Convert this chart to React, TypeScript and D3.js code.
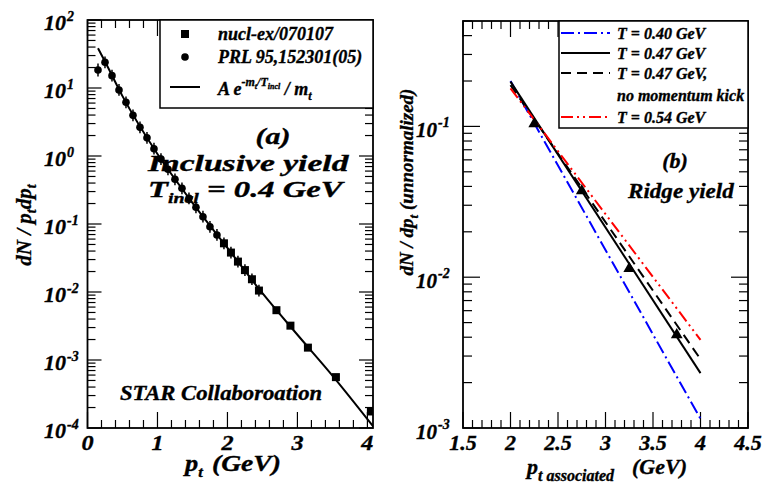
import React from 'react';
import * as d3 from 'd3';

const W = 763;
const H = 482;
const FONT = '"Liberation Serif", "Times New Roman", serif';

// panel (a): inclusive spectrum
const prlPt = [0.15, 0.25, 0.35, 0.45, 0.55, 0.65, 0.75, 0.85, 0.95, 1.05, 1.15, 1.25, 1.35, 1.45, 1.55, 1.65, 1.75, 1.85];
const prlYield = [18.4, 23.9, 15.2, 9.35, 6.17, 3.96, 2.64, 1.85, 1.28, 0.9, 0.637, 0.454, 0.335, 0.239, 0.176, 0.128, 0.091, 0.069];
const prlErr = [0.25, 0.22, 0.22, 0.22, 0.22, 0.22, 0.22, 0.22, 0.22, 0.22, 0.22, 0.22, 0.22, 0.22, 0.22, 0.22, 0.22, 0.22];
const nuclPt = [1.95, 2.05, 2.15, 2.25, 2.35, 2.45, 2.7, 2.9, 3.15, 3.55, 4.05];
const nuclYield = [0.052, 0.038, 0.028, 0.021, 0.0154, 0.0105, 0.0054, 0.0032, 0.00152, 0.00056, 0.000175];
const nuclErr = [0.22, 0.22, 0.22, 0.22, 0.22, 0.22, 0, 0, 0, 0, 0];
const fitPt = [0.15, 0.25, 0.5, 1.0, 1.5, 2.0, 2.5, 3.0, 3.5, 4.1];
const fitYield = [38.5, 24.5, 7.6, 1.07, 0.205, 0.0445, 0.0096, 0.00235, 0.00059, 0.0001];
const leftXTicks = [0, 1, 2, 3, 4];
const leftYExp = [-4, -3, -2, -1, 0, 1, 2];

// panel (b): ridge yield
const ridgePt = [2.25, 2.75, 3.25, 3.75];
const ridgeYield = [0.104, 0.0374, 0.0114, 0.00415];
const curvePt = [2, 4];
const series = [
  { label: 'T = 0.40 GeV', values: [0.2, 0.00115], color: '#0000ff', dash: '13 4 2 4' },
  { label: 'T = 0.47 GeV', values: [0.198, 0.00231], color: '#000', dash: '' },
  { label: 'T = 0.47 GeV,', values: [0.188, 0.00286], color: '#000', dash: '10 6' },
  { label: 'T = 0.54 GeV', values: [0.179, 0.00384], color: '#ff0000', dash: '12 4 2 4 2 4' },
];
const rightXTicks = [1.5, 2, 2.5, 3, 3.5, 4, 4.5];
const rightYExp = [-3, -2, -1];

const Txt = ({ x, y, size, sx = 1, anchor = 'start', children }: any) => (
  <text
    transform={`translate(${x},${y}) scale(${sx},1)`}
    fontSize={size}
    textAnchor={anchor}
    fontFamily={FONT}
    fontWeight="bold"
    fontStyle="italic"
    fill="#000"
    stroke="#000"
    strokeWidth={0.35}
  >
    {children}
  </text>
);

export default function App() {
  // scales
  const xL = d3.scaleLinear().domain([0, 4.08]).range([87.5, 373]);
  const yL = d3.scaleLog().domain([1e-4, 1e2]).range([428, 20]);
  const xR = d3.scaleLinear().domain([1.5, 4.5]).range([463, 748]);
  const yR = d3.scaleLog().domain([1e-3, 0.5]).range([428, 21]);

  const fitLine = d3.line<number>()
    .x((_, i) => xL(fitPt[i]))
    .y(d => yL(d))
    .curve(d3.curveMonotoneX);

  const ridgeLine = d3.line<number>()
    .x((_, i) => xR(curvePt[i]))
    .y(d => yR(d));

  const tri = d3.symbol().type(d3.symbolTriangle).size(60)();

  const isDecade = (v: number) => Math.abs(Math.log10(v) - Math.round(Math.log10(v))) < 1e-6;

  // ticks
  const [lx0, lx1] = xL.range();
  const [ly0, ly1] = [yL.range()[1], yL.range()[0]];
  const lxTicks = d3.range(0, 21).map(i => ({ v: i * 0.2, major: i % 5 === 0 }));
  const lyTicks = yL.ticks().map(v => ({ v, major: isDecade(v) }));

  const [rx0, rx1] = xR.range();
  const [ry0, ry1] = [yR.range()[1], yR.range()[0]];
  const rxTicks = d3.range(15, 46).map(i => ({ v: i / 10, major: i % 5 === 0 }));
  const ryTicks = yR.ticks().filter(v => v <= 0.5).map(v => ({ v, major: isDecade(v) }));

  const sw = 1.8;

  return (
    <svg width={W} height={H} style={{ position: 'absolute', left: 0, top: 0, background: '#fff' }}>
      <defs>
        <clipPath id="clipL"><rect x={lx0} y={ly0} width={lx1 - lx0} height={ly1 - ly0} /></clipPath>
        <clipPath id="clipR"><rect x={rx0} y={ry0} width={rx1 - rx0} height={ry1 - ry0} /></clipPath>
      </defs>

      {/* ---------- panel (a) ---------- */}
      <g stroke="#000" strokeWidth={1.2}>
        {lxTicks.map((t, i) => (
          <g key={'lx' + i}>
            <line x1={xL(t.v)} x2={xL(t.v)} y1={ly1} y2={ly1 - (t.major ? 16 : 8)} />
            <line x1={xL(t.v)} x2={xL(t.v)} y1={ly0} y2={ly0 + (t.major ? 16 : 8)} />
          </g>
        ))}
        {lyTicks.map((t, i) => (
          <g key={'ly' + i}>
            <line x1={lx0} x2={lx0 + (t.major ? 14 : 8)} y1={yL(t.v)} y2={yL(t.v)} />
            <line x1={lx1} x2={lx1 - (t.major ? 14 : 8)} y1={yL(t.v)} y2={yL(t.v)} />
          </g>
        ))}
      </g>

      <g clipPath="url(#clipL)">
        <path d={fitLine(fitYield) || ''} fill="none" stroke="#000" strokeWidth={2} />
        {prlPt.map((p, i) => (
          <g key={'prl' + i}>
            {prlErr[i] > 0 && (
              <line x1={xL(p)} x2={xL(p)} y1={yL(prlYield[i] * (1 + prlErr[i]))} y2={yL(prlYield[i] / (1 + prlErr[i]))} stroke="#000" strokeWidth={1.5} />
            )}
            <circle cx={xL(p)} cy={yL(prlYield[i])} r={3.8} fill="#000" />
          </g>
        ))}
        {nuclPt.map((p, i) => (
          <g key={'nucl' + i}>
            {nuclErr[i] > 0 && (
              <line x1={xL(p)} x2={xL(p)} y1={yL(nuclYield[i] * (1 + nuclErr[i]))} y2={yL(nuclYield[i] / (1 + nuclErr[i]))} stroke="#000" strokeWidth={1.5} />
            )}
            <rect x={xL(p) - 4} y={yL(nuclYield[i]) - 4} width={8} height={8} fill="#000" />
          </g>
        ))}
      </g>

      <rect x={lx0} y={ly0} width={lx1 - lx0} height={ly1 - ly0} fill="none" stroke="#000" strokeWidth={sw} />

      {/* legend (a) */}
      <rect x={160} y={ly0} width={lx1 - 160} height={88} fill="#fff" stroke="#000" strokeWidth={1.5} />
      <rect x={181} y={30} width={8} height={8} fill="#000" />
      <circle cx={185} cy={57} r={3.8} fill="#000" />
      <line x1={170} x2={200} y1={87} y2={87} stroke="#000" strokeWidth={2} />
      <Txt x={218} y={40} size={18}>nucl-ex/070107</Txt>
      <Txt x={218} y={63} size={18}>PRL 95,152301(05)</Txt>
      <Txt x={218} y={95} size={18}>
        A e<tspan dy={-9} fontSize={12}>-m</tspan>
        <tspan dy={3} fontSize={8}>t</tspan>
        <tspan dy={-3} fontSize={12}>/T</tspan>
        <tspan dy={3} fontSize={8}>incl</tspan>
        <tspan dy={6} fontSize={18}> / m</tspan>
        <tspan dy={5} fontSize={12}>t</tspan>
      </Txt>

      <Txt x={273} y={144} size={23} sx={1.3} anchor="middle">(a)</Txt>
      <Txt x={148} y={171} size={23} sx={1.46}>Inclusive yield</Txt>
      <Txt x={148} y={197} size={23} sx={1.42}>
        T<tspan dy={6} fontSize={14}>incl</tspan>
        <tspan dy={-6}> = 0.4 GeV</tspan>
      </Txt>
      <Txt x={120} y={400} size={21} sx={1.08}>STAR Collaboroation</Txt>

      {/* axis labels (a) */}
      {leftXTicks.map(v => (
        <Txt key={'lxl' + v} x={xL(v)} y={450} size={22} sx={1.1} anchor="middle">{v}</Txt>
      ))}
      {leftYExp.map(e => (
        <g key={'lyl' + e}>
          <Txt x={66} y={yL(Math.pow(10, e)) + 10} size={22} anchor="end">10</Txt>
          <Txt x={67} y={yL(Math.pow(10, e)) + 1} size={14}>{e}</Txt>
        </g>
      ))}
      <Txt x={185} y={471} size={24} sx={1.1}>
        p<tspan dy={6} fontSize={15}>t</tspan>
      </Txt>
      <Txt x={212} y={471} size={24} sx={1.15}>(GeV)</Txt>
      <text
        transform="translate(31,225) rotate(-90)"
        fontSize={21}
        textAnchor="middle"
        fontFamily={FONT}
        fontWeight="bold"
        fontStyle="italic"
        stroke="#000"
        strokeWidth={0.35}
      >
        dN / p<tspan dy={5} fontSize={14}>t</tspan>
        <tspan dy={-5}>dp</tspan>
        <tspan dy={5} fontSize={14}>t</tspan>
      </text>

      {/* ---------- panel (b) ---------- */}
      <g stroke="#000" strokeWidth={1.2}>
        {rxTicks.map((t, i) => (
          <g key={'rx' + i}>
            <line x1={xR(t.v)} x2={xR(t.v)} y1={ry1} y2={ry1 - (t.major ? 16 : 8)} />
            <line x1={xR(t.v)} x2={xR(t.v)} y1={ry0} y2={ry0 + (t.major ? 16 : 8)} />
          </g>
        ))}
        {ryTicks.map((t, i) => (
          <g key={'ry' + i}>
            <line x1={rx0} x2={rx0 + (t.major ? 17 : 9)} y1={yR(t.v)} y2={yR(t.v)} />
            <line x1={rx1} x2={rx1 - (t.major ? 17 : 9)} y1={yR(t.v)} y2={yR(t.v)} />
          </g>
        ))}
      </g>

      <g clipPath="url(#clipR)">
        {series.map((s, i) => (
          <path key={'s' + i} d={ridgeLine(s.values) || ''} fill="none" stroke={s.color} strokeWidth={2} strokeDasharray={s.dash} />
        ))}
        {ridgePt.map((p, i) => (
          <path key={'tr' + i} d={tri || ''} transform={`translate(${xR(p)},${yR(ridgeYield[i])})`} fill="#000" />
        ))}
      </g>

      <rect x={rx0} y={ry0} width={rx1 - rx0} height={ry1 - ry0} fill="none" stroke="#000" strokeWidth={sw} />

      {/* legend (b) */}
      <rect x={559} y={ry0} width={rx1 - 559} height={107} fill="#fff" stroke="#000" strokeWidth={1.5} />
      {[33, 53, 73, 117].map((ly, i) => (
        <line key={'lg' + i} x1={561} x2={610} y1={ly} y2={ly} stroke={series[i].color} strokeWidth={2} strokeDasharray={series[i].dash} />
      ))}
      <Txt x={617} y={39} size={16}>{series[0].label}</Txt>
      <Txt x={617} y={59} size={16}>{series[1].label}</Txt>
      <Txt x={617} y={79} size={16}>{series[2].label}</Txt>
      <Txt x={617} y={101} size={16}>no momentum kick</Txt>
      <Txt x={617} y={123} size={16}>{series[3].label}</Txt>

      <Txt x={675} y={168} size={22} anchor="middle">(b)</Txt>
      <Txt x={628} y={198} size={22} sx={1.05}>Ridge yield</Txt>

      {rightXTicks.map(v => (
        <Txt key={'rxl' + v} x={xR(v)} y={450} size={22} anchor="middle">{v}</Txt>
      ))}
      {rightYExp.map(e => (
        <g key={'ryl' + e}>
          <Txt x={437} y={yR(Math.pow(10, e)) + 11} size={21} anchor="end">10</Txt>
          <Txt x={438} y={yR(Math.pow(10, e)) + 1} size={14}>{e}</Txt>
        </g>
      ))}
      <Txt x={527} y={474} size={22}>
        p<tspan dy={7} fontSize={16}>t associated</tspan>
      </Txt>
      <Txt x={632} y={474} size={22}>(GeV)</Txt>
      <text
        transform="translate(413,182) rotate(-90)"
        fontSize={19}
        textAnchor="middle"
        fontFamily={FONT}
        fontWeight="bold"
        fontStyle="italic"
        stroke="#000"
        strokeWidth={0.35}
      >
        dN / dp<tspan dy={5} fontSize={13}>t</tspan>
        <tspan dy={-5}> (unnormalized)</tspan>
      </text>
    </svg>
  );
}
